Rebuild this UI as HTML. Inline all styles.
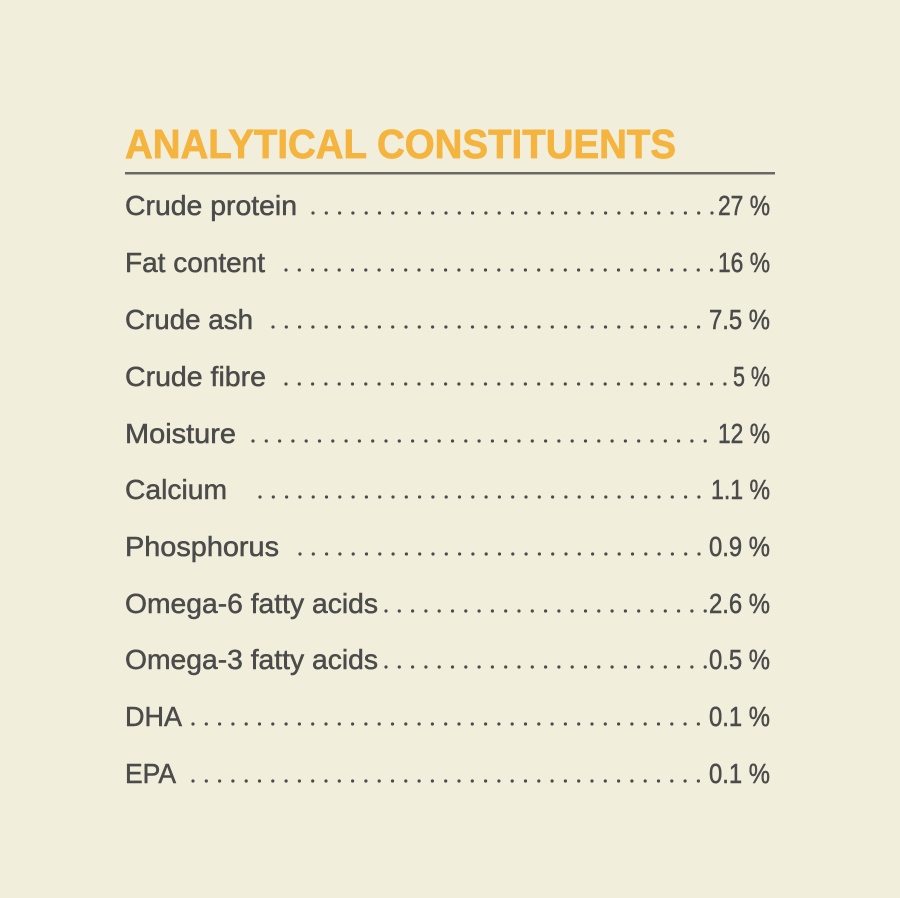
<!DOCTYPE html>
<html><head><meta charset="utf-8"><style>
html,body{margin:0;padding:0;background:#f2eedc;}
svg{display:block}
text{font-family:"Liberation Sans",sans-serif;}
</style></head><body>
<svg width="900" height="898" viewBox="0 0 900 898" xmlns="http://www.w3.org/2000/svg">
<rect width="900" height="898" fill="#f2eedc"/>
<text x="125" y="158" font-size="41" font-weight="bold" fill="#f4b43e" stroke="#f4b43e" stroke-width="0.8" textLength="551" lengthAdjust="spacingAndGlyphs">ANALYTICAL CONSTITUENTS</text>
<rect x="125" y="172" width="650" height="2.5" fill="#6a6866"/>
<g fill="#4b4b4b" font-size="28" stroke="#4b4b4b" stroke-width="0.5">
<text x="125" y="215" textLength="172" lengthAdjust="spacingAndGlyphs">Crude protein</text>
<text x="718" y="215" textLength="52" lengthAdjust="spacingAndGlyphs">27 %</text>
<text x="125" y="272" textLength="140" lengthAdjust="spacingAndGlyphs">Fat content</text>
<text x="718" y="272" textLength="52" lengthAdjust="spacingAndGlyphs">16 %</text>
<text x="125" y="329" textLength="128" lengthAdjust="spacingAndGlyphs">Crude ash</text>
<text x="709" y="329" textLength="61" lengthAdjust="spacingAndGlyphs">7.5 %</text>
<text x="125" y="386" textLength="141" lengthAdjust="spacingAndGlyphs">Crude fibre</text>
<text x="733" y="386" textLength="37" lengthAdjust="spacingAndGlyphs">5 %</text>
<text x="125" y="443" textLength="111" lengthAdjust="spacingAndGlyphs">Moisture</text>
<text x="718" y="443" textLength="52" lengthAdjust="spacingAndGlyphs">12 %</text>
<text x="125" y="499" textLength="102" lengthAdjust="spacingAndGlyphs">Calcium</text>
<text x="711" y="499" textLength="59" lengthAdjust="spacingAndGlyphs">1.1 %</text>
<text x="125" y="556" textLength="154" lengthAdjust="spacingAndGlyphs">Phosphorus</text>
<text x="709" y="556" textLength="61" lengthAdjust="spacingAndGlyphs">0.9 %</text>
<text x="125" y="613" textLength="253" lengthAdjust="spacingAndGlyphs">Omega-6 fatty acids</text>
<text x="709" y="613" textLength="61" lengthAdjust="spacingAndGlyphs">2.6 %</text>
<text x="125" y="669" textLength="253" lengthAdjust="spacingAndGlyphs">Omega-3 fatty acids</text>
<text x="709" y="669" textLength="61" lengthAdjust="spacingAndGlyphs">0.5 %</text>
<text x="125" y="726" textLength="57" lengthAdjust="spacingAndGlyphs">DHA</text>
<text x="709" y="726" textLength="61" lengthAdjust="spacingAndGlyphs">0.1 %</text>
<text x="125" y="783" textLength="51" lengthAdjust="spacingAndGlyphs">EPA</text>
<text x="709" y="783" textLength="61" lengthAdjust="spacingAndGlyphs">0.1 %</text>
</g>
<g stroke="#4b4b4b" stroke-width="3.2" stroke-linecap="round" stroke-dasharray="0 13.3" fill="none">
<line x1="313" y1="213" x2="714" y2="213"/>
<line x1="286" y1="270" x2="714" y2="270"/>
<line x1="273" y1="327" x2="706" y2="327"/>
<line x1="286" y1="384" x2="728" y2="384"/>
<line x1="253" y1="441" x2="714" y2="441"/>
<line x1="260" y1="497" x2="708" y2="497"/>
<line x1="300" y1="554" x2="706" y2="554"/>
<line x1="386" y1="611" x2="706" y2="611"/>
<line x1="386" y1="667" x2="706" y2="667"/>
<line x1="193" y1="724" x2="706" y2="724"/>
<line x1="193" y1="781" x2="706" y2="781"/>
</g>
</svg>
</body></html>
